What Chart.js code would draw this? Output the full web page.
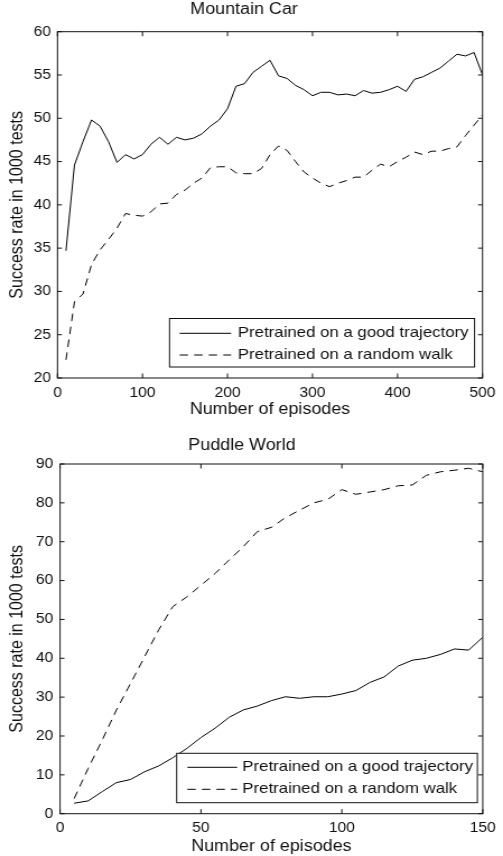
<!DOCTYPE html>
<html>
<head>
<meta charset="utf-8">
<script src="https://cdn.jsdelivr.net/npm/chart.js@4/dist/chart.umd.min.js"></script>
<style>
  html, body { margin: 0; padding: 0; background: #fff; }
  #wrap { position: relative; width: 503px; height: 856px; }
  canvas { position: absolute; left: 0; }
</style>
</head>
<body>
<div id="wrap">
  <canvas id="car" width="449" height="428" style="top:0;width:503px;height:428px"></canvas>
  <canvas id="puddle" width="449" height="420" style="top:436px;width:503px;height:420px"></canvas>
</div>
<script>
// Mountain Car (top)
const carEpisodes = [10, 20, 30, 40, 50, 60, 70, 80, 90, 100,
    110, 120, 130, 140, 150, 160, 170, 180, 190, 200,
    210, 220, 230, 240, 250, 260, 270, 280, 290, 300,
    310, 320, 330, 340, 350, 360, 370, 380, 390, 400,
    410, 420, 430, 440, 450, 460, 470, 480, 490, 500];
const carGood = [34.7, 44.6, 47.3, 49.8, 49.1, 47.3, 44.9, 45.8, 45.3, 45.8,
    47.0, 47.8, 47.0, 47.8, 47.5, 47.7, 48.2, 49.1, 49.8, 51.1,
    53.7, 54.0, 55.3, 56.0, 56.7, 54.9, 54.6, 53.8, 53.3, 52.6,
    53.0, 53.0, 52.7, 52.8, 52.6, 53.2, 52.9, 53.0, 53.3, 53.7,
    53.1, 54.5, 54.8, 55.3, 55.8, 56.6, 57.4, 57.2, 57.6, 55.0];
const carRandom = [22.1, 28.8, 29.7, 33.1, 34.8, 36.0, 37.3, 39.0, 38.8, 38.7,
    39.2, 40.1, 40.2, 41.2, 41.7, 42.5, 43.1, 44.3, 44.4, 44.4,
    43.7, 43.6, 43.6, 44.2, 45.8, 46.8, 46.3, 45.0, 43.8, 43.1,
    42.5, 42.1, 42.5, 42.8, 43.2, 43.2, 44.0, 44.7, 44.4, 45.0,
    45.5, 46.1, 45.8, 46.2, 46.2, 46.5, 46.7, 48.0, 49.2, 50.4];
const carXTicks = [0, 100, 200, 300, 400, 500];
const carYTicks = [20, 25, 30, 35, 40, 45, 50, 55, 60];

// Puddle World (bottom)
const puddleEpisodes = [5, 10, 15, 20, 25, 30, 35, 40, 45, 50,
    55, 60, 65, 70, 75, 80, 85, 90, 95, 100,
    105, 110, 115, 120, 125, 130, 135, 140, 145, 150];
const puddleGood = [2.7, 3.3, 5.7, 8.0, 8.8, 10.8, 12.3, 14.4, 16.8, 19.6,
    22.0, 24.8, 26.7, 27.7, 29.1, 30.1, 29.7, 30.1, 30.1, 30.8,
    31.7, 33.8, 35.2, 38.0, 39.5, 40.0, 41.0, 42.4, 42.1, 45.4];
const puddleRandom = [3.9, 11.7, 19.0, 26.7, 33.5, 40.4, 47.3, 53.3, 55.8, 58.8,
    61.8, 65.3, 68.7, 72.6, 73.7, 76.2, 78.1, 80.0, 80.9, 83.4,
    82.2, 82.8, 83.4, 84.4, 84.6, 87.1, 88.0, 88.4, 88.9, 88.0];
const puddleXTicks = [0, 50, 100, 150];
const puddleYTicks = [0, 10, 20, 30, 40, 50, 60, 70, 80, 90];

const seriesLabels = ['Pretrained on a good trajectory', 'Pretrained on a random walk'];
const FONT = 'Arial, "Liberation Sans", Helvetica, sans-serif';
const INK = '#111';

// box around the plot + inward tick marks (matlab style)
const frameTicks = {
    id: 'frameTicks',
    afterDatasetsDraw(chart) {
        const { ctx, chartArea: a, scales } = chart;
        ctx.save();
        ctx.strokeStyle = INK;
        ctx.lineWidth = 1;
        ctx.strokeRect(a.left, a.top, a.right - a.left, a.bottom - a.top);
        ctx.beginPath();
        scales.x.ticks.forEach(t => {
            const x = scales.x.getPixelForValue(t.value);
            ctx.moveTo(x, a.bottom); ctx.lineTo(x, a.bottom - 4.5);
            ctx.moveTo(x, a.top); ctx.lineTo(x, a.top + 4.5);
        });
        scales.y.ticks.forEach(t => {
            const y = scales.y.getPixelForValue(t.value);
            ctx.moveTo(a.left, y); ctx.lineTo(a.left + 4, y);
            ctx.moveTo(a.right, y); ctx.lineTo(a.right - 4, y);
        });
        ctx.stroke();
        ctx.restore();
    }
};

// legend in a box, lower right inside the plot
const boxLegend = {
    id: 'boxLegend',
    afterDraw(chart, args, opts) {
        const { ctx, chartArea: a } = chart;
        const right = a.right - opts.right;
        const bottom = a.bottom - opts.bottom;
        const left = right - opts.width;
        const top = bottom - opts.height;
        ctx.save();
        ctx.fillStyle = '#fff';
        ctx.fillRect(left, top, opts.width, opts.height);
        ctx.strokeStyle = INK;
        ctx.lineWidth = 1;
        ctx.setLineDash([]);
        ctx.strokeRect(left, top, opts.width, opts.height);
        ctx.font = '15px ' + FONT;
        ctx.textBaseline = 'middle';
        chart.data.datasets.forEach((ds, i) => {
            const y = top + opts.rows[i];
            ctx.beginPath();
            ctx.setLineDash(ds.borderDash || []);
            ctx.strokeStyle = ds.borderColor;
            ctx.lineWidth = ds.borderWidth;
            ctx.moveTo(left + opts.lineFrom, y);
            ctx.lineTo(left + opts.lineTo, y);
            ctx.stroke();
            ctx.setLineDash([]);
            ctx.fillStyle = INK;
            ctx.fillText(ds.label, left + opts.textAt, y);
        });
        ctx.restore();
    }
};

function makeChart(id, cfg) {
    const ctx = document.getElementById(id).getContext('2d');
    return new Chart(ctx, {
        type: 'line',
        data: {
            datasets: [{
                label: seriesLabels[0],
                data: cfg.x.map((x, i) => ({ x, y: cfg.good[i] })),
                borderColor: '#000',
                borderWidth: 1,
                pointRadius: 0,
                tension: 0
            }, {
                label: seriesLabels[1],
                data: cfg.x.map((x, i) => ({ x, y: cfg.random[i] })),
                borderColor: '#000',
                borderWidth: 1,
                borderDash: [7.5, 5.5],
                pointRadius: 0,
                tension: 0
            }]
        },
        options: {
            responsive: false,
            animation: false,
            devicePixelRatio: 1,
            layout: { padding: { left: 0, right: cfg.padRight, top: 0, bottom: 0 } },
            scales: {
                x: {
                    type: 'linear',
                    min: cfg.xTicks[0],
                    max: cfg.xTicks[cfg.xTicks.length - 1],
                    afterBuildTicks: s => { s.ticks = cfg.xTicks.map(v => ({ value: v })); },
                    afterFit: s => { s.height = cfg.xHeight; },
                    grid: { display: false, drawTicks: false },
                    border: { display: false },
                    ticks: { color: INK, font: { family: FONT, size: 14 }, padding: cfg.xTickPad, maxRotation: 0 },
                    title: {
                        display: true, text: 'Number of episodes', color: INK,
                        font: { family: FONT, size: 16 }, padding: { top: 0, bottom: cfg.xTitlePad }
                    }
                },
                y: {
                    min: cfg.yTicks[0],
                    max: cfg.yTicks[cfg.yTicks.length - 1],
                    afterBuildTicks: s => { s.ticks = cfg.yTicks.map(v => ({ value: v })); },
                    afterFit: s => { s.width = cfg.yWidth; },
                    grid: { display: false, drawTicks: false },
                    border: { display: false },
                    ticks: { color: INK, font: { family: FONT, size: 14 }, padding: cfg.yTickPad },
                    title: {
                        display: true, text: 'Success rate in 1000 tests', color: INK,
                        font: { family: FONT, size: 16 }, padding: { top: 6, bottom: 0 }
                    }
                }
            },
            plugins: {
                legend: { display: false },
                tooltip: { enabled: false },
                title: {
                    display: true, text: cfg.title, color: INK,
                    font: { family: FONT, size: 16, weight: 'normal' },
                    padding: { top: cfg.titleTop, bottom: cfg.titleBottom }
                },
                boxLegend: cfg.legend
            }
        },
        plugins: [frameTicks, boxLegend]
    });
}

makeChart('car', {
    title: 'Mountain Car',
    x: carEpisodes, good: carGood, random: carRandom,
    xTicks: carXTicks, yTicks: carYTicks,
    padRight: 13.3, yWidth: 51.3, xHeight: 50,
    xTickPad: 6.6, xTitlePad: 8.5, yTickPad: 5.8,
    titleTop: 0, titleBottom: 12.5,
    legend: { right: 7.1, bottom: 11, width: 272.3, height: 48.5, rows: [14.8, 36.5],
              lineFrom: 9, lineTo: 55, textAt: 61 }
});

makeChart('puddle', {
    title: 'Puddle World',
    x: puddleEpisodes, good: puddleGood, random: puddleRandom,
    xTicks: puddleXTicks, yTicks: puddleYTicks,
    padRight: 17.1, yWidth: 53.6, xHeight: 42.3,
    xTickPad: 6.4, xTitlePad: 0, yTickPad: 6,
    titleTop: 0, titleBottom: 8.8,
    legend: { right: 4.8, bottom: 11, width: 268.4, height: 49.4, rows: [14, 36],
              lineFrom: 9.5, lineTo: 54, textAt: 58.6 }
});
</script>
</body>
</html>
